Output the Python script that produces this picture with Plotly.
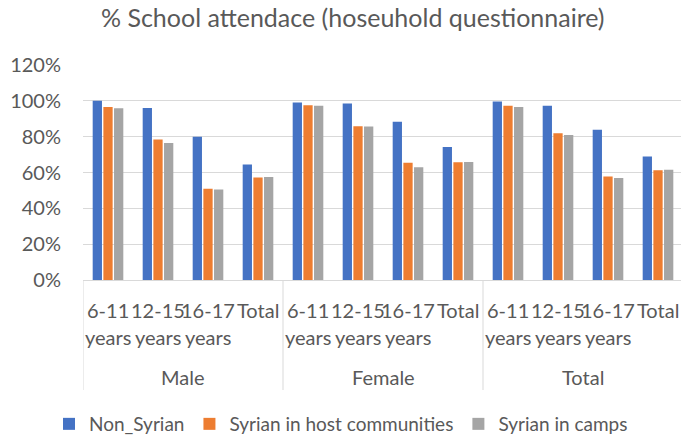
import plotly.graph_objects as go

# Survey groups and age bands (inner categories)
groups = ["Male", "Female", "Total"]
age_bands = ["6-11 years", "12-15 years", "16-17 years", "Total"]

# School attendance, % (household questionnaire), per group in age-band order
non_syrian = {
    "Male":   [100.0, 96.0, 80.0, 64.5],
    "Female": [99.1, 98.5, 88.3, 74.3],
    "Total":  [99.6, 97.2, 83.8, 68.9],
}
syrian_host = {
    "Male":   [96.6, 78.4, 51.0, 57.2],
    "Female": [97.6, 85.8, 65.4, 65.7],
    "Total":  [97.2, 81.9, 57.7, 61.3],
}
syrian_camps = {
    "Male":   [95.9, 76.4, 50.5, 57.5],
    "Female": [97.2, 85.7, 62.9, 65.9],
    "Total":  [96.6, 81.0, 57.0, 61.6],
}

series = [
    ("Non_Syrian", non_syrian, "#4472C4"),
    ("Syrian in host communities", syrian_host, "#ED7D31"),
    ("Syrian in camps", syrian_camps, "#A5A5A5"),
]

y_ticks = [0, 20, 40, 60, 80, 100, 120]

FONT = "Lato"
TXT = "#595959"
GRID = "#D9D9D9"
LBL = 20

W, H = 681, 438
M_L, M_R, M_T, M_B = 83, 0, 65, 158
plot_h = H - M_T - M_B

n_band = len(age_bands)
slots = list(range(len(groups) * n_band))

fig = go.Figure()
for name, data, color in series:
    vals = [v for g in groups for v in data[g]]
    fig.add_trace(go.Bar(
        x=slots, y=vals, name=name,
        marker=dict(color=color, line=dict(width=0)),
    ))


def below(px):
    """Paper y for a point px pixels under the x axis."""
    return -px / plot_h


annotations = []
shapes = []
for gi, g in enumerate(groups):
    # group separators under the axis
    left = gi * n_band - 0.5
    shapes.append(dict(type="line", xref="x", yref="paper",
                       x0=left, x1=left, y0=0, y1=below(110),
                       line=dict(color=GRID, width=1)))
    for bi, band in enumerate(age_bands):
        pos = gi * n_band + bi
        for ri, word in enumerate(band.split(" ")):
            annotations.append(dict(
                x=pos, xref="x", y=below(30 + 27 * ri), yref="paper",
                text=word, showarrow=False, xanchor="center", yanchor="middle",
                font=dict(family=FONT, size=LBL, color=TXT),
            ))
    annotations.append(dict(
        x=gi * n_band + (n_band - 1) / 2, xref="x", y=below(97), yref="paper",
        text=g, showarrow=False, xanchor="center", yanchor="middle",
        font=dict(family=FONT, size=LBL, color=TXT),
    ))

fig.update_layout(
    width=W, height=H,
    margin=dict(l=M_L, r=M_R, t=M_T, b=M_B),
    paper_bgcolor="white", plot_bgcolor="white",
    barmode="group", bargap=0.36, bargroupgap=0.13,
    title=dict(
        text="% School attendace (hoseuhold questionnaire)",
        x=0.518, xref="container", xanchor="center",
        y=1 - 18 / H, yref="container", yanchor="middle",
        font=dict(family=FONT, size=25, color=TXT),
    ),
    xaxis=dict(
        range=[-0.5, len(slots) - 0.5 - 0.04],
        showticklabels=False, showgrid=False, zeroline=False, showline=False,
        fixedrange=True,
    ),
    yaxis=dict(
        range=[0, 120], tickmode="array",
        tickvals=y_ticks, ticktext=[f"{v}%" for v in y_ticks],
        showgrid=True, gridcolor=GRID, gridwidth=1,
        zeroline=True, zerolinecolor=GRID, zerolinewidth=1,
        showline=False, ticks="", ticklabelstandoff=21,
        tickfont=dict(family=FONT, size=LBL, color=TXT),
    ),
    legend=dict(
        orientation="h", xref="container", yref="container",
        x=49 / W, xanchor="left", y=1 - 424 / H, yanchor="middle",
        font=dict(family=FONT, size=19, color=TXT),
        itemwidth=30, traceorder="normal",
    ),
    annotations=annotations,
    shapes=shapes,
)

fig.write_html("out.html")
